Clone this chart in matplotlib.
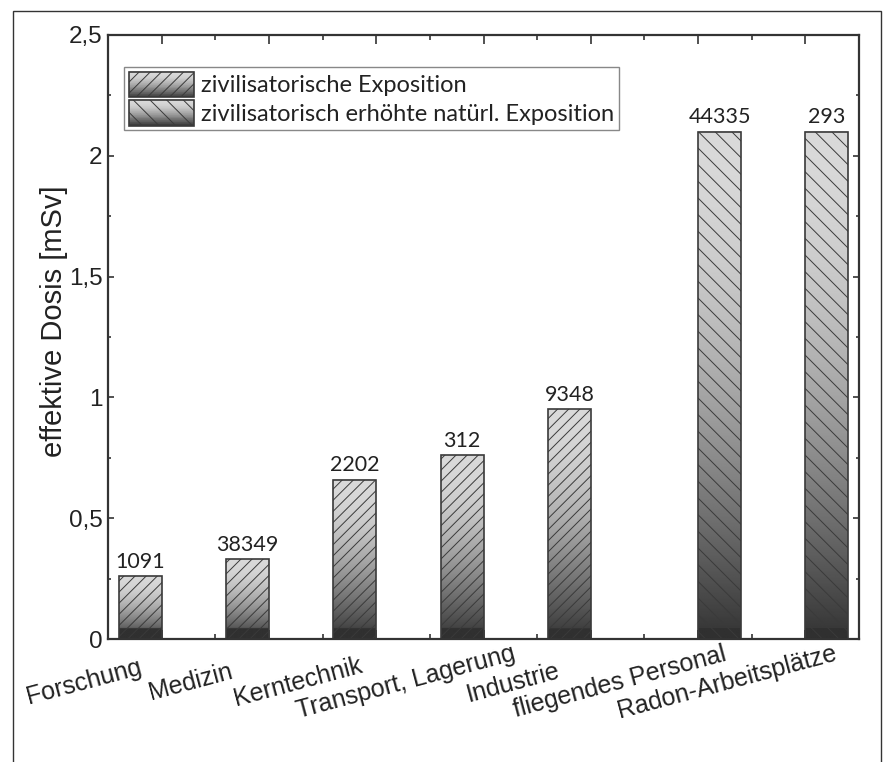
import numpy as np
import matplotlib
matplotlib.use('Agg')
import matplotlib.pyplot as plt
from matplotlib.patches import Rectangle
from matplotlib.legend_handler import HandlerBase
from matplotlib.ticker import FixedLocator, FuncFormatter

# data
categories = ["Forschung", "Medizin", "Kerntechnik", "Transport, Lagerung",
              "Industrie", "fliegendes Personal", "Radon-Arbeitsplätze"]
dose_civil = [0.26, 0.33, 0.66, 0.76, 0.95, 0, 0]      # zivilisatorische Exposition
dose_natural = [0, 0, 0, 0, 0, 2.10, 2.10]             # erhoehte natuerl. Exposition
counts = [1091, 38349, 2202, 312, 9348, 44335, 293]
series_names = ["zivilisatorische Exposition",
                "zivilisatorisch erhöhte natürl. Exposition"]

W = 0.4
EDGE = '#3a3a3a'
LIGHT, DARK = 0.85, 0.2
BAND = 0.045

plt.rcParams['hatch.linewidth'] = 0.7


def shade(t):
    # grey value for relative height t (0 bottom, 1 top)
    return DARK + (LIGHT - DARK) * np.sin(np.pi * t / 2)


fig = plt.figure(figsize=(8.86, 7.62), dpi=100)
ax = fig.add_axes([108/886, 1-639/762, (859-108)/886, (639-35)/762])

x = np.arange(1, len(categories) + 1)


def grad_bars(xs, heights, align_left, hatch):
    for xi, h in zip(xs, heights):
        if h <= 0:
            continue
        x0 = xi - W if align_left else xi
        N = 600
        yy = (np.arange(N) + 0.5) / N * h
        col = shade(yy / h)
        col[yy < BAND] = np.minimum(col[yy < BAND], 0.19)
        ax.imshow(col.reshape(-1, 1), extent=[x0, x0 + W, 0, h], origin='lower',
                  cmap='gray', vmin=0, vmax=1, aspect='auto', zorder=1,
                  interpolation='bilinear')
    ax.bar(xs - W if align_left else xs, heights, width=W, align='edge',
           facecolor='none', edgecolor=EDGE, hatch=hatch, linewidth=1.2, zorder=2)


grad_bars(x, np.array(dose_civil), True, '///')
grad_bars(x, np.array(dose_natural), False, '\\\\')

# count labels above bars
for xi, h1, h2, c in zip(x, dose_civil, dose_natural, counts):
    if h1 > 0:
        xc, h = xi - W/2, h1
    else:
        xc, h = xi + W/2, h2
    ax.annotate(str(c), (xc, h), xytext=(0, 3), textcoords='offset points',
                ha='center', va='bottom', fontsize=15.5, family='Lato', color='#222222')

ax.set_xlim(0.5, 7.5)
ax.set_ylim(0, 2.5)

ax.xaxis.set_major_locator(FixedLocator(x))
ax.xaxis.set_minor_locator(FixedLocator(x + 0.5))
ax.set_xticklabels([])
ax.yaxis.set_major_locator(FixedLocator([0, 0.5, 1, 1.5, 2, 2.5]))
ax.yaxis.set_minor_locator(FixedLocator([0.25, 0.75, 1.25, 1.75, 2.25]))
ax.yaxis.set_major_formatter(FuncFormatter(lambda v, p: f"{v:g}".replace('.', ',')))
ax.tick_params(axis='x', which='major', direction='in', top=True, bottom=True, length=6.5, width=1.2, color='#333333')
ax.tick_params(axis='x', which='minor', direction='in', top=True, bottom=True, length=3.5, width=1.2, color='#333333')
ax.tick_params(axis='y', which='major', direction='in', left=True, right=True, length=4, width=1.2,
               color='#333333', labelsize=17.5, pad=4)
ax.tick_params(axis='y', which='minor', direction='in', left=True, right=True, length=2, width=1.2, color='#333333')
for lab in ax.get_yticklabels():
    lab.set_family('Liberation Sans')
    lab.set_color('#222222')
for s in ax.spines.values():
    s.set_linewidth(1.6)
    s.set_color('#333333')

ax.set_ylabel('effektive Dosis [mSv]', fontsize=21, family='Liberation Sans', color='#222222')
ax.yaxis.set_label_coords(-0.053, 0.526)

# category labels (rotated, staggered as in original)
for xi, name in zip(x, categories):
    ax.text(xi - 0.71, -0.083, name, transform=ax.get_xaxis_transform(),
            rotation=15, rotation_mode='anchor', ha='center', va='baseline',
            fontsize=18, family='Liberation Sans', color='#222222')


class GradHandler(HandlerBase):
    def __init__(self, hatch):
        super().__init__()
        self.hatch = hatch

    def create_artists(self, legend, orig_handle, xdescent, ydescent, width, height, fontsize, trans):
        arts = []
        n = 40
        for i in range(n):
            t = (i + 0.5) / n
            g = shade(t)
            arts.append(Rectangle((-xdescent, -ydescent + i * height / n), width, height / n + 0.3,
                                  facecolor=(g, g, g), edgecolor='none', transform=trans))
        arts.append(Rectangle((-xdescent, -ydescent), width, height, facecolor='none',
                              edgecolor=EDGE, hatch=self.hatch, linewidth=1.2, transform=trans))
        return arts


h1 = Rectangle((0, 0), 1, 1)
h2 = Rectangle((0, 0), 1, 1)
leg = ax.legend([h1, h2], series_names, loc='upper left',
                bbox_to_anchor=((124-108)/751, (639-67)/604), borderaxespad=0,
                handler_map={h1: GradHandler('///'), h2: GradHandler('\\\\')},
                prop={'family': 'Lato', 'size': 17}, handlelength=2.75, handleheight=1.3,
                handletextpad=0.3, labelspacing=0.1, borderpad=0.2, fancybox=False,
                framealpha=1, edgecolor='#888888')
leg.get_frame().set_linewidth(1.0)
for t in leg.get_texts():
    t.set_color('#222222')

# outer frame
fig.add_artist(Rectangle((13/886, -0.05), (881-13)/886, 1-11/762+0.05, transform=fig.transFigure,
                         fill=False, linewidth=1.0, edgecolor='#333333'))

fig.savefig('out.png', dpi=100)
